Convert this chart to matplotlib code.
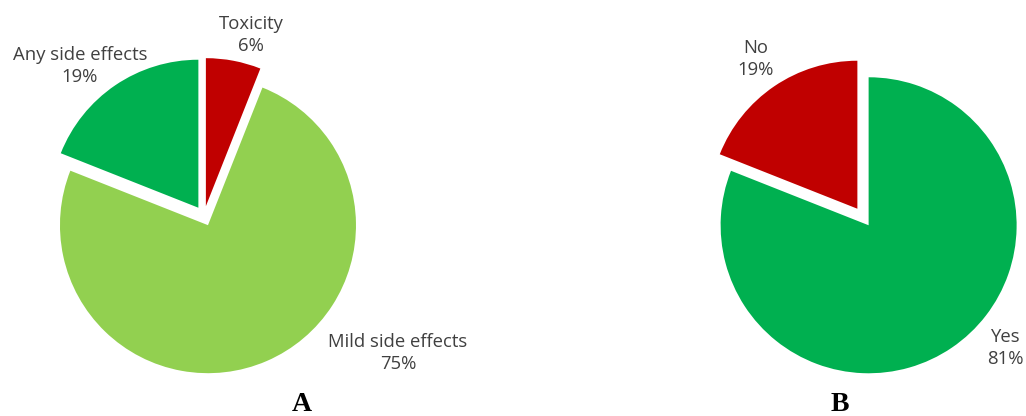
import matplotlib.pyplot as plt

# Panel A: side effects reported
side_labels = ['Toxicity', 'Mild side effects', 'Any side effects']
side_values = [6, 75, 19]
side_colors = ['#C00000', '#92D050', '#00B050']

# Panel B: yes / no answers
answer_labels = ['Yes', 'No']
answer_values = [81, 19]
answer_colors = ['#00B050', '#C00000']

text_color = '#404040'
radius = 148
gap = 10

fig = plt.figure(figsize=(10.26, 4.16), dpi=100)
ax = fig.add_axes([0, 0, 1, 1])

ax.pie(side_values, colors=side_colors, startangle=90, counterclock=False,
       radius=radius, center=(204, 200), explode=[gap] * len(side_values),
       frame=True)
ax.pie(answer_values, colors=answer_colors, startangle=90, counterclock=False,
       radius=radius, center=(863, 199), explode=[gap] * len(answer_values),
       frame=True)
ax.set_xlim(0, 1026)
ax.set_ylim(0, 416)
ax.set_aspect('equal')
ax.axis('off')

label_font = dict(family='Open Sans', fontsize=13.3, color=text_color,
                  ha='center', va='center', linespacing=1.25)

# data labels placed outside the slices
side_pos = [(251, 381), (398, 63), (80, 350)]
for lab, val, (x, y) in zip(side_labels, side_values, side_pos):
    ax.text(x, y, f'{lab}\n{val}%', **label_font)

answer_pos = [(1005, 68), (756, 357)]
for lab, val, (x, y) in zip(answer_labels, answer_values, answer_pos):
    ax.text(x, y, f'{lab}\n{val}%', **label_font)

# panel letters
ax.text(302, 5, 'A', family='Liberation Serif', fontweight='bold',
        fontsize=20, ha='center', va='baseline', color='black')
ax.text(840, 5, 'B', family='Liberation Serif', fontweight='bold',
        fontsize=20, ha='center', va='baseline', color='black')

fig.savefig('out.png', dpi=100)
